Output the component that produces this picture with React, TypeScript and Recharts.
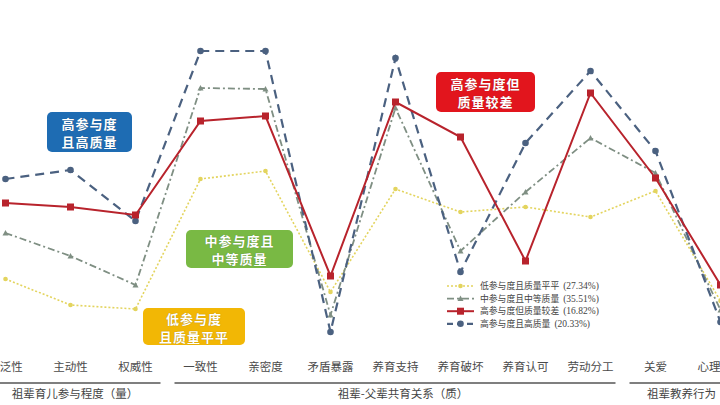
import { Line, LineChart, XAxis, YAxis } from "recharts";

// 维度
const categories = [
  "广泛性",
  "主动性",
  "权威性",
  "一致性",
  "亲密度",
  "矛盾暴露",
  "养育支持",
  "养育破坏",
  "养育认可",
  "劳动分工",
  "关爱",
  "心理控制",
];

// 标准化得分
const lowFlat = [-0.79, -1.05, -1.09, 0.21, 0.29, -0.92, 0.11, -0.12, -0.07, -0.17, 0.09, -1.01];
const midMid = [-0.33, -0.56, -0.85, 1.12, 1.11, -1.15, 0.92, -0.51, 0.08, 0.62, 0.27, -1.1];
const highPoor = [-0.03, -0.07, -0.15, 0.79, 0.84, -0.76, 0.98, 0.63, -0.61, 1.07, 0.22, -0.85];
const highHigh = [0.21, 0.3, -0.21, 1.49, 1.49, -1.32, 1.42, -0.72, 0.57, 1.29, 0.49, -1.22];

const legendNames = [
  "低参与度且质量平平",
  "中参与度且中等质量",
  "高参与度但质量较差",
  "高参与度且高质量",
];
const legendShares = ["(27.34%)", "(35.51%)", "(16.82%)", "(20.33%)"];

const groups = [
  { label: "祖辈育儿参与程度（量）", from: 0, to: 2 },
  { label: "祖辈-父辈共育关系（质）", from: 3, to: 9 },
  { label: "祖辈教养行为（质）", from: 10, to: 13 },
];

const data = categories.map((name, i) => ({
  name,
  low: lowFlat[i],
  mid: midMid[i],
  poor: highPoor[i],
  high: highHigh[i],
}));

const CJK = '"Noto Sans CJK SC", "Noto Sans", sans-serif';
const BAND = 65;
const OFFSET = -27.5;
const W = 720;
const H = 405;

const YELLOW = "#e3d45e";
const GREEN = "#7f8f83";
const RED = "#b8232c";
const BLUE = "#4b6180";

const series = [
  { key: "low", color: YELLOW, dash: "2 2", width: 1.6, shape: "dot" },
  { key: "mid", color: GREEN, dash: "7 3 2 3", width: 1.8, shape: "tri" },
  { key: "high", color: BLUE, dash: "9 6", width: 2.2, shape: "circle" },
  { key: "poor", color: RED, dash: undefined, width: 2, shape: "square" },
];
const legendOrder = ["low", "mid", "poor", "high"];

function Marker({ cx, cy, shape, color }: any) {
  if (cx == null || cy == null) return null;
  if (shape === "square")
    return <rect x={cx - 3.5} y={cy - 3.5} width={7} height={7} fill={color} />;
  if (shape === "tri")
    return (
      <polygon
        points={`${cx},${cy - 3} ${cx - 3},${cy + 2.5} ${cx + 3},${cy + 2.5}`}
        fill={color}
      />
    );
  if (shape === "circle") return <circle cx={cx} cy={cy} r={3.3} fill={color} />;
  return <circle cx={cx} cy={cy} r={2.3} fill={color} />;
}

function CategoryTick({ x, y, payload }: any) {
  return (
    <text
      x={x}
      y={y}
      dy={13}
      textAnchor="middle"
      fontSize={11.5}
      fill="#4a4a4a"
      fontFamily={CJK}
    >
      {payload.value}
    </text>
  );
}

function Tag({
  left,
  top,
  width,
  height,
  bg,
  lines,
}: {
  left: number;
  top: number;
  width: number;
  height: number;
  bg: string;
  lines: string[];
}) {
  return (
    <div
      style={{
        position: "absolute",
        left,
        top,
        width,
        height,
        background: bg,
        borderRadius: 5,
        color: "#fff",
        fontFamily: CJK,
        fontWeight: 700,
        fontSize: 13,
        letterSpacing: 1,
        lineHeight: "19px",
        display: "flex",
        flexDirection: "column",
        alignItems: "center",
        justifyContent: "center",
        textShadow: "0 0 1px rgba(0,0,0,0.35)",
      }}
    >
      {lines.map((l) => (
        <div key={l} style={{ height: 18 }}>
          {l}
        </div>
      ))}
    </div>
  );
}

export default function App() {
  const center = (i: number) => OFFSET + BAND / 2 + i * BAND;
  return (
    <div
      style={{
        position: "absolute",
        left: 0,
        top: 0,
        width: W,
        height: H,
        overflow: "hidden",
        background: "#fff",
      }}
    >
      <div style={{ position: "absolute", left: OFFSET, top: 0 }}>
        <LineChart
          width={BAND * categories.length}
          height={H}
          data={data}
          margin={{ top: 0, right: 0, left: 0, bottom: 25 }}
        >
          <XAxis
            dataKey="name"
            axisLine={false}
            tickLine={false}
            height={30}
            interval={0}
            padding={{ left: BAND / 2, right: BAND / 2 }}
            tick={<CategoryTick />}
          />
          <YAxis hide domain={[-1.5, 2]} allowDataOverflow />
          {series.map((s) => (
            <Line
              key={s.key}
              type="linear"
              dataKey={s.key}
              stroke={s.color}
              strokeWidth={s.width}
              strokeDasharray={s.dash}
              dot={(p: any) => (
                <Marker key={`${s.key}-${p.index}`} cx={p.cx} cy={p.cy} shape={s.shape} color={s.color} />
              )}
              activeDot={false}
              isAnimationActive={false}
            />
          ))}
        </LineChart>
      </div>

      <svg
        width={W}
        height={H}
        style={{ position: "absolute", left: 0, top: 0, pointerEvents: "none" }}
      >
        {groups.map((g) => (
          <line
            key={g.label}
            x1={center(g.from) - BAND / 2 + 7}
            x2={center(g.to) + BAND / 2 - 7}
            y1={383}
            y2={383}
            stroke="#555"
            strokeWidth={1.5}
          />
        ))}
        <text x={75} y={398} textAnchor="middle" fontSize={11.5} fill="#444" fontFamily={CJK}>
          {groups[0].label}
        </text>
        <text x={403} y={398} textAnchor="middle" fontSize={11.5} fill="#444" fontFamily={CJK}>
          {groups[1].label}
        </text>
        <text x={647} y={398} fontSize={11.5} fill="#444" fontFamily={CJK}>
          {groups[2].label}
        </text>

        {legendOrder.map((k, i) => {
          const s = series.find((x) => x.key === k)!;
          const y = 286 + i * 12.6;
          return (
            <g key={k}>
              <line
                x1={447}
                x2={474}
                y1={y}
                y2={y}
                stroke={s.color}
                strokeWidth={s.width}
                strokeDasharray={s.dash ? (k === "high" ? "6 4" : s.dash) : undefined}
              />
              <Marker cx={460.5} cy={y} shape={s.shape} color={s.color} />
              <text x={480} y={y + 3.2} fontSize={8.8} fill="#444" fontFamily={CJK}>
                {legendNames[i]}
                <tspan fontFamily='"Liberation Serif", serif' fontSize={9.5} dx={4}>
                  {legendShares[i]}
                </tspan>
              </text>
            </g>
          );
        })}
      </svg>

      <Tag left={47} top={112} width={85} height={40} bg="#1e6cb3" lines={["高参与度", "且高质量"]} />
      <Tag left={186} top={230} width={107} height={38} bg="#79b944" lines={["中参与度且", "中等质量"]} />
      <Tag left={143} top={308} width={102} height={37} bg="#f2b705" lines={["低参与度", "且质量平平"]} />
      <Tag left={436} top={72} width={99} height={40} bg="#e2151d" lines={["高参与度但", "质量较差"]} />
    </div>
  );
}
